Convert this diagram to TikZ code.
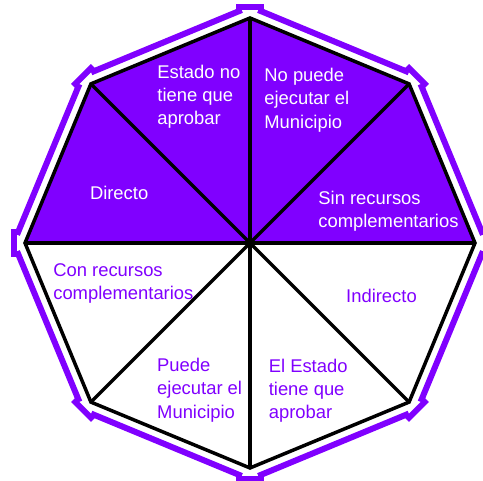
\documentclass[tikz,border=0pt]{standalone}
\usepackage{fontspec}
\setmainfont{Liberation Sans}
\usetikzlibrary{calc}
\definecolor{vio}{RGB}{128,0,255}
\begin{document}
\begin{tikzpicture}[x=1pt,y=1pt,
  lab/.style={font=\fontsize{18.4}{23.3}\selectfont, align=left, anchor=base west, inner sep=0pt},
  wlab/.style={lab, text=white},
  plab/.style={lab, text=vio},
  blk/.style={draw=black, line width=3.5pt, line join=miter},
  outer/.style={draw=vio, line width=6pt, line cap=butt}]
\useasboundingbox (0,0) rectangle (483,481);
\coordinate (C) at (250,238);
\foreach \i in {0,...,7} {
  \coordinate (v\i) at ($(C)+(90+45*\i:225)$);
  \coordinate (o\i) at ($(C)+(90+45*\i:236.4)$);
}
% filled upper half
\fill[vio] (C) -- (v2) -- (v1) -- (v0) -- (v7) -- (v6) -- cycle;
% octagon and spokes
\draw[blk] (v0) -- (v1) -- (v2) -- (v3) -- (v4) -- (v5) -- (v6) -- (v7) -- cycle;
\foreach \i in {0,...,7} { \draw[blk] (C) -- (v\i); }
% outer purple frame: sides
\foreach \i in {0,...,7} {
  \pgfmathtruncatemacro{\j}{mod(\i+1,8)}
  \draw[outer] ($(o\i)!9pt!(o\j)$) -- ($(o\j)!9pt!(o\i)$);
}
% outer purple frame: corner caps
\foreach \i in {0,...,7} {
  \pgfmathsetmacro{\a}{90+45*\i}
  \coordinate (k\i) at ($(C)+(\a:236)$);
  \draw[outer] ($(k\i)+(\a+90:14)$) -- ($(k\i)+(\a-90:14)$);
}
% labels (anchor = baseline of last line)
\node[wlab] (t1) at (157.2,356.1) {Estado no\\tiene que\\aprobar};
\node[wlab] (t2) at (264.2,352.9) {No puede\\ejecutar el\\Municipio};
\node[wlab] (t3) at (318.2,253.5) {Sin recursos\\complementarios};
\node[wlab] (t4) at (89.8,281) {Directo};
\node[plab] (t5) at (53.1,181.5) {Con recursos\\complementarios};
\node[plab] (t6) at (346,178.3) {Indirecto};
\node[plab] (t7) at (157,62.7) {Puede\\ejecutar el\\Municipio};
\node[plab] (t8) at (268.6,62.1) {El Estado\\tiene que\\aprobar};
\end{tikzpicture}
\end{document}
